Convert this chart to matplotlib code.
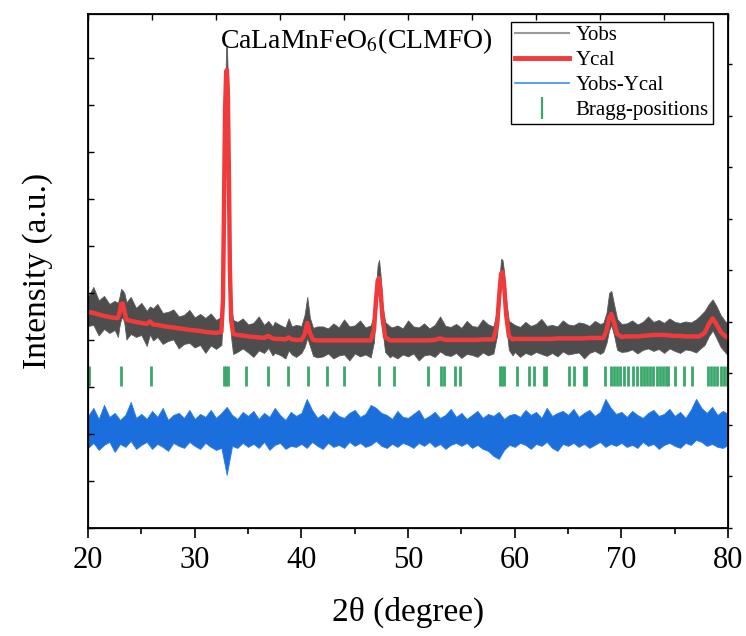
import numpy as np
import matplotlib
matplotlib.use('Agg')
import matplotlib.pyplot as plt
from matplotlib.lines import Line2D
from matplotlib.ticker import MultipleLocator, NullFormatter

plt.rcParams['font.family'] = ['Liberation Serif', 'DejaVu Serif']
plt.rcParams['mathtext.fontset'] = 'stix'

# calculated profile (2theta, counts)
two_theta = [
    20.0, 20.5, 21.0, 21.5, 22.0, 22.5, 22.8,
    22.95, 23.1, 23.25, 23.4, 23.6, 24.0,
    24.5, 25.0, 25.5, 25.8, 26.1, 26.5, 27.0, 27.5, 28.0, 28.5, 29.0, 29.5, 30.0, 30.5, 31.0, 31.5, 32.0,
    32.5, 32.65, 32.75, 32.85, 32.95, 33.02, 33.10, 33.20, 33.30, 33.42, 33.6,
    34.0, 34.5, 35.0, 35.5, 36.0, 36.5, 36.9, 37.3, 37.5, 38.0, 38.5, 38.8, 39.1, 39.5, 40.0,
    40.3, 40.55, 40.8, 41.1, 41.5,
    42.0, 42.5, 43.0, 43.5, 44.0, 44.5, 45.0, 45.5, 46.0, 46.5,
    46.8, 47.0, 47.15, 47.28, 47.42, 47.6, 47.85, 48.3,
    48.5, 49.0, 49.5, 50.0, 50.5, 51.0, 51.5, 52.0, 52.5, 53.0, 53.5, 54.0, 54.5, 55.0, 55.5, 56.0, 56.5, 57.0, 57.5, 58.0,
    58.35, 58.55, 58.72, 58.85, 59.0, 59.2, 59.45, 59.8,
    60.0, 60.5, 61.0, 61.5, 62.0, 62.5, 63.0, 63.5, 64.0, 64.5, 65.0, 65.5, 66.0, 66.5, 67.0, 67.5, 68.0,
    68.3, 68.6, 68.85, 69.05, 69.3, 69.6, 70.0,
    70.5, 71.0, 71.5, 72.0, 72.5, 73.0, 73.5, 74.0, 74.5, 75.0, 75.5, 76.0, 76.5, 77.0, 77.3,
    77.8, 78.2, 78.55, 78.9, 79.3, 79.7, 80.0,
]
y_cal = [
    2160, 2150, 2135, 2120, 2110, 2100, 2100,
    2150, 2240, 2245, 2170, 2085, 2070,
    2060, 2050, 2040, 2065, 2035, 2030, 2020, 2010, 2005, 1995, 1990, 1980, 1975, 1970, 1960, 1955, 1950,
    1960, 2280, 3280, 4180, 4560, 4580, 4380, 3580, 2580, 2080, 1940,
    1930, 1925, 1915, 1910, 1905, 1900, 1920, 1895, 1890, 1890, 1885, 1905, 1885, 1880, 1880,
    1930, 2050, 1950, 1880, 1875,
    1875, 1875, 1875, 1875, 1875, 1875, 1875, 1875, 1875, 1875,
    1980, 2280, 2470, 2500, 2380, 2100, 1910, 1875,
    1875, 1875, 1875, 1875, 1875, 1875, 1875, 1875, 1880, 1895, 1880, 1880, 1880, 1880, 1880, 1880, 1880, 1885, 1885, 1885,
    2030, 2330, 2540, 2560, 2430, 2130, 1920, 1885,
    1890, 1890, 1890, 1890, 1890, 1890, 1890, 1890, 1895, 1895, 1895, 1895, 1895, 1895, 1900, 1900, 1900,
    1900, 1970, 2100, 2140, 2060, 1940, 1910,
    1915, 1915, 1915, 1920, 1925, 1930, 1930, 1930, 1925, 1920, 1920, 1915, 1915, 1915, 1915,
    1950, 2040, 2095, 2040, 1960, 1920, 1900,
]
# spread of the observed points above / below the calculated curve
obs_up = [
    150, 260, 140, 200, 130, 170, 150,
    160, 150, 130, 180, 170, 240,
    140, 200, 130, 150, 160, 210, 130, 150, 180, 120, 140, 200, 130, 170, 140, 190, 130,
    150, 120, 120, 150, 250, 230, 150, 120, 120, 130, 140,
    130, 170, 120, 140, 210, 130, 150, 120, 170, 140, 120, 190, 130, 150, 140,
    200, 260, 150, 120, 140,
    140, 120, 170, 130, 210, 140, 150, 200, 130, 150,
    150, 130, 160, 180, 150, 130, 150, 140,
    130, 150, 120, 200, 140, 130, 170, 120, 150, 220, 140, 130, 160, 120, 190, 140, 130, 200, 150, 130,
    150, 140, 150, 120, 130, 140, 150, 160,
    140, 120, 170, 130, 150, 200, 130, 140, 120, 180, 140, 130, 160, 150, 120, 170, 140,
    150, 180, 250, 230, 180, 150, 130,
    130, 160, 120, 140, 190, 130, 150, 120, 170, 140, 130, 150, 140, 170, 200,
    220, 200, 190, 180, 170, 150, 140,
]
obs_dn = [
    140, 120, 210, 130, 160, 120, 190,
    130, 150, 140, 120, 200, 130,
    150, 120, 220, 130, 160, 120, 180, 140, 120, 200, 150, 130, 170, 140, 210, 130, 160,
    130, 100, 100, 100, 100, 100, 100, 100, 120, 180, 200,
    170, 130, 160, 200, 130, 150, 120, 170, 140, 160, 190, 130, 150, 170, 130,
    120, 150, 130, 160, 170,
    160, 130, 180, 150, 140, 200, 130, 160, 140, 170,
    120, 100, 100, 110, 100, 120, 150, 170,
    150, 180, 140, 160, 130, 200, 150, 140, 170, 130, 150, 160, 130, 180, 140, 150, 170, 130, 160, 140,
    100, 100, 110, 100, 100, 110, 140, 160,
    130, 180, 140, 160, 130, 150, 170, 140, 180, 130, 160, 150, 140, 200, 150, 130, 160,
    140, 120, 120, 110, 130, 160, 150,
    150, 130, 170, 140, 130, 160, 140, 180, 130, 150, 170, 130, 140, 160, 130,
    120, 120, 120, 140, 150, 160, 180,
]

# difference curve band (offset below the pattern)
diff_x = np.arange(20.0, 80.01, 0.5)
diff_hi = [
    1120, 1200, 1090, 1230, 1110, 1150, 1080, 1130, 1260, 1100,
    1140, 1090, 1170, 1110, 1200, 1080, 1130, 1150, 1100, 1180,
    1090, 1140, 1110, 1180, 1100, 1150, 1210, 1130, 1090, 1160,
    1120, 1170, 1090, 1150, 1110, 1200, 1130, 1080, 1160, 1120,
    1150, 1290, 1180, 1100, 1140, 1090, 1170, 1120, 1100, 1150,
    1180, 1110, 1140, 1230, 1200, 1150, 1130, 1090, 1170, 1110,
    1100, 1140, 1180, 1090, 1120, 1160, 1100, 1130, 1190, 1110,
    1150, 1090, 1130, 1170, 1100, 1140, 1120, 1160, 1090, 1130,
    1140, 1110, 1180, 1130, 1160, 1100, 1200, 1120, 1150, 1170,
    1130, 1190, 1110, 1150, 1180, 1120, 1160, 1290, 1200, 1140,
    1160, 1110, 1170, 1130, 1100, 1150, 1180, 1120, 1140, 1190,
    1120, 1160, 1100, 1180, 1290, 1200, 1150, 1210, 1130, 1170,
    1140,
]
diff_lo = [
    800, 850, 780, 830, 860, 760, 840, 810, 870, 790,
    830, 860, 790, 840, 810, 770, 850, 820, 800, 860,
    820, 790, 850, 810, 780, 800, 530, 820, 800, 850,
    810, 840, 800, 860, 780, 830, 850, 790, 820, 810,
    840, 800, 860, 820, 790, 850, 810, 830, 800, 860,
    820, 850, 810, 830, 870, 820, 800, 840, 810, 850,
    830, 800, 850, 820, 860, 810, 840, 790, 830, 850,
    820, 850, 800, 830, 790, 770, 720, 690, 780, 830,
    810, 850, 830, 790, 840, 820, 860, 800, 770, 840,
    820, 850, 810, 840, 800, 830, 860, 810, 840, 820,
    850, 810, 830, 800, 860, 820, 840, 790, 830, 850,
    820, 800, 850, 830, 880, 860, 820, 840, 810, 800,
    830,
]

bragg = [20.08, 23.12, 25.89, 32.72, 32.9, 33.12, 34.82, 36.87, 38.77, 40.62,
         42.44, 44.02, 47.26, 48.72, 51.88, 53.07, 53.38, 54.37, 54.85,
         58.6, 58.8, 59.0, 60.18, 61.37, 61.76, 62.75, 62.95, 65.12, 65.52,
         66.5, 66.7, 68.48, 69.07, 69.3, 69.6, 69.86, 70.26, 70.65, 71.05,
         71.44, 71.84, 72.1, 72.4, 72.7, 73.0, 73.3, 73.6, 73.9, 74.15, 74.4,
         75.0, 75.87, 76.58, 78.16, 78.4, 78.7, 79.0, 79.3, 79.6, 79.94]

x = np.array(two_theta)
ycal = np.array(y_cal)
yobs_hi = ycal + np.array(obs_up)
yobs_lo = ycal - np.array(obs_dn)

fig = plt.figure(figsize=(7.46, 6.36), dpi=100)
ax = fig.add_axes([0.118, 0.170, 0.858, 0.808])

ax.fill_between(x, yobs_lo, yobs_hi, color='#4d4d4d', lw=0.6, edgecolor='#5a5a5a')
ax.plot(x, ycal, color='#ef3b3b', lw=3.2, solid_joinstyle='round')
ax.fill_between(diff_x, diff_lo, diff_hi, color='#1a6fdc', lw=0.6, edgecolor='#2a7be6')
ax.vlines(bragg, 1420, 1620, color='#3aa86a', lw=2.0)

ax.text(32.4, 4800, 'CaLaMnFeO$_{6}$(CLMFO)', fontsize=20, va='baseline')

ax.set_xlim(20, 80)
ax.set_ylim(0, 5140)
ax.xaxis.set_major_locator(MultipleLocator(10))
ax.xaxis.set_minor_locator(MultipleLocator(5))
ax.yaxis.set_major_locator(MultipleLocator(470))
ax.yaxis.set_major_formatter(NullFormatter())
ax.tick_params(axis='x', which='major', direction='out', length=7, width=1.2, labelsize=22, pad=6)
ax.tick_params(axis='x', which='minor', direction='out', length=4, width=1.2)
ax.tick_params(axis='y', direction='in', length=4, width=1.0)
for s in ax.spines.values():
    s.set_linewidth(1.3)

# extra ticks on top / right like the original layer
axt = ax.twiny()
axt.set_xlim(0, 10)
axt.xaxis.set_major_locator(MultipleLocator(1))
axt.xaxis.set_major_formatter(NullFormatter())
axt.tick_params(axis='x', direction='in', length=4, width=1.0)
axr = ax.twinx()
axr.set_ylim(0, 9.98)
axr.yaxis.set_major_locator(MultipleLocator(1))
axr.yaxis.set_major_formatter(NullFormatter())
axr.tick_params(axis='y', direction='out', length=3, width=1.0)

ax.set_xlabel('2θ (degree)', fontsize=24, labelpad=16)
ax.set_ylabel('Intensity (a.u.)', fontsize=24, labelpad=22)

handles = [
    Line2D([], [], color='#9a9a9a', lw=1.5),
    Line2D([], [], color='#ef3b3b', lw=3.5),
    Line2D([], [], color='#3d8ef0', lw=1.2),
    Line2D([], [], color='#3aa86a', marker='|', ls='none', markersize=16, markeredgewidth=1.6),
]
leg = ax.legend(handles, ['Yobs', 'Ycal', 'Yobs-Ycal', 'Bragg-positions'],
                loc='upper right', bbox_to_anchor=(0.976, 0.985), borderaxespad=0,
                fontsize=15, fancybox=False, edgecolor='black', framealpha=1,
                handlelength=2.6, handletextpad=0.3, labelspacing=0.25,
                borderpad=0.2)
leg.get_frame().set_linewidth(1.0)

fig.savefig('out.png', dpi=100)
